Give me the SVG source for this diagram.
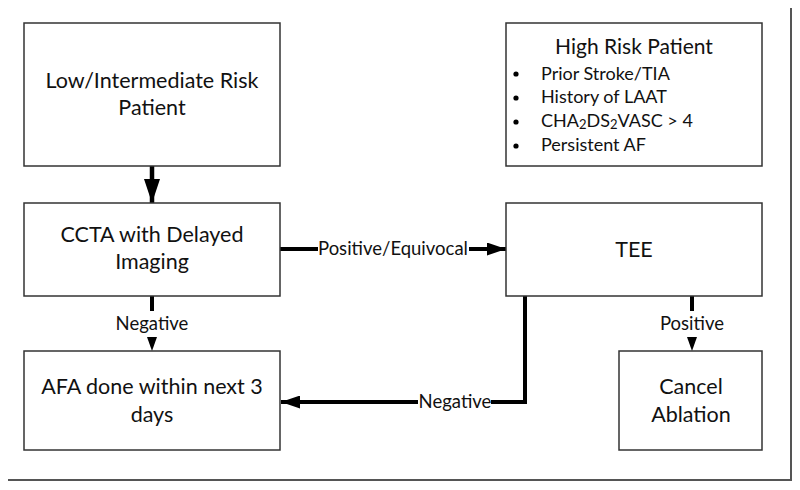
<svg xmlns="http://www.w3.org/2000/svg" width="800" height="490" viewBox="0 0 800 490">
<defs>
<style>
.box{fill:#fff;stroke:#333;stroke-width:1.5}
.t{font-family:Lato,"Liberation Sans",sans-serif;font-size:21.5px;fill:#111;text-anchor:middle}
.h{font-family:Lato,"Liberation Sans",sans-serif;font-size:21px;fill:#111;text-anchor:middle}
.s{font-family:Lato,"Liberation Sans",sans-serif;font-size:18px;fill:#111}
.l{font-family:Lato,"Liberation Sans",sans-serif;font-size:18.5px;fill:#111;text-anchor:middle}
.c{fill:none;stroke:#000;stroke-width:4}
.c2{fill:none;stroke:#000;stroke-width:4.5}
</style>
<marker id="big" markerUnits="userSpaceOnUse" markerWidth="24" markerHeight="16" refX="24" refY="8" orient="auto"><path d="M0,0 L24,8 L0,16 Z" fill="#000"/></marker>
<marker id="mid" markerUnits="userSpaceOnUse" markerWidth="19" markerHeight="13" refX="19" refY="6.5" orient="auto"><path d="M0,0 L19,6.5 L0,13 Z" fill="#000"/></marker>
</defs>
<rect width="800" height="490" fill="#fff"/>
<path d="M8,480 H791 V8" fill="none" stroke="#555" stroke-width="2"/>
<g id="connectors">
<line class="c2" x1="152" y1="166" x2="152" y2="203" marker-end="url(#big)"/>
<line class="c" x1="280" y1="249" x2="318" y2="249"/>
<line class="c" x1="469" y1="249" x2="506" y2="249" marker-end="url(#mid)"/>
<text class="l" x="393" y="255">Positive/Equivocal</text>
<line class="c" x1="152" y1="296" x2="152" y2="311"/>
<path d="M147,337 L157,337 L152,351 Z" fill="#000"/>
<text class="l" x="152" y="330">Negative</text>
<path class="c" d="M525,296 V402 H491"/>
<line class="c" x1="418" y1="402" x2="281" y2="402" marker-end="url(#mid)"/>
<text class="l" x="455" y="408">Negative</text>
<line class="c" x1="692" y1="296" x2="692" y2="311"/>
<path d="M687,337 L697,337 L692,351 Z" fill="#000"/>
<text class="l" x="692" y="330">Positive</text>
</g>
<g id="low">
<rect class="box" x="24" y="23" width="256" height="143"/>
<text class="t" x="152" y="88">Low/Intermediate Risk</text>
<text class="t" x="152" y="115">Patient</text>
</g>
<g id="high">
<rect class="box" x="506" y="23" width="256" height="143"/>
<text class="h" x="634" y="54">High Risk Patient</text>
<g class="s">
<circle cx="516" cy="74" r="2.6" fill="#000"/>
<circle cx="516" cy="98" r="2.6" fill="#000"/>
<circle cx="516" cy="122" r="2.6" fill="#000"/>
<circle cx="516" cy="146" r="2.6" fill="#000"/>
<text x="541" y="80">Prior Stroke/TIA</text>
<text x="541" y="103">History of LAAT</text>
<text x="541" y="127">CHA<tspan font-size="13" dy="2">2</tspan><tspan dy="-2">DS</tspan><tspan font-size="13" dy="2">2</tspan><tspan dy="-2">VASC &gt; 4</tspan></text>
<text x="541" y="151">Persistent AF</text>
</g>
</g>
<g id="ccta">
<rect class="box" x="24" y="203" width="256" height="93"/>
<text class="t" x="152" y="242">CCTA with Delayed</text>
<text class="t" x="152" y="269">Imaging</text>
</g>
<g id="tee">
<rect class="box" x="506" y="203" width="256" height="93"/>
<text class="t" x="634" y="257">TEE</text>
</g>
<g id="afa">
<rect class="box" x="24" y="351" width="256" height="99"/>
<text class="t" x="152" y="394">AFA done within next 3</text>
<text class="t" x="152" y="422">days</text>
</g>
<g id="cancel">
<rect class="box" x="619" y="351" width="143" height="99"/>
<text class="t" x="691" y="394">Cancel</text>
<text class="t" x="691" y="422">Ablation</text>
</g>
</svg>
